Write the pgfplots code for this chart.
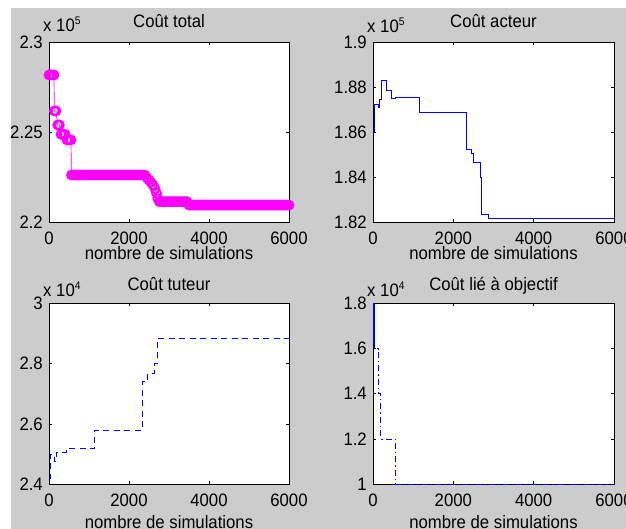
\documentclass[border=0pt]{standalone}
\usepackage{fontspec}
\setmainfont{Liberation Sans}[FakeStretch=0.93]
\usepackage{pgfplots}
\pgfplotsset{compat=1.18}
\definecolor{figgray}{gray}{0.8}
\definecolor{mag}{rgb}{1,0,1}
\definecolor{pblue}{rgb}{0,0,1}
\newcommand{\lblfont}{\fontsize{18}{18}\selectfont}
\pgfplotsset{
  matfig/.style n args={3}{
    scale only axis, clip=false, anchor=south west,
    xmin=0, xmax=6000, xtick={0,2000,4000,6000},
    scaled x ticks=false,
    axis background/.style={fill=white},
    axis line style={black, line width=0.8pt},
    tick align=inside, tick pos=both, major tick length=3pt,
    every tick/.style={black, line width=0.6pt},
    /pgf/number format/assume math mode=true,
    /pgf/number format/1000 sep={},
    /pgf/number format/fixed, /pgf/number format/precision=2,
    tick label style={font=\lblfont, text=black},
    yticklabel style={anchor=east, inner sep=0pt, xshift=-6pt},
    xticklabel style={anchor=north, inner sep=0pt, yshift=-9.5pt},
    every axis title/.style={at={(axis description cs:0.5,1)}, anchor=base, inner sep=0pt, font=\lblfont, yshift=#1},
    xlabel={nombre de simulations},
    every axis x label/.style={at={(axis description cs:0.5,0)}, anchor=base, inner sep=0pt, font=\lblfont, yshift=-#2},
    every y tick scale label/.style={at={(axis description cs:0,1)}, anchor=base west, inner sep=0pt, font=\lblfont, yshift=#3},
  },
}
\begin{document}
\begin{tikzpicture}[x=1pt,y=1pt]
\fill[white] (0,0) rectangle (626,529);
\fill[figgray] (11,0) rectangle (626,521);

% ---------- Coût total ----------
\begin{axis}[matfig={14pt}{37.8pt}{10pt}, at={(49pt,307pt)}, width=240pt, height=180pt,
  ymin=220000, ymax=230000, ytick={220000,225000,230000},
  scaled y ticks=base 10:-5,
  ytick scale label code/.code={x 10\raisebox{7pt}{\fontsize{11}{11}\selectfont 5}},
  title={Coût total}]
\addplot[mag, line width=0.7pt, mark=o, mark size=4.4pt, mark options={line width=1.9pt}] coordinates {
(0,228170) (40,228170) (80,228170) (125,228170) (133,226170) (175,226170)
(217,225390) (260,225390) (300,224870) (358,224870) (400,224870)
(450,224560) (500,224560) (550,224560) (560,222610)
(600,222610) (650,222610) (700,222610) (750,222610) (800,222610) (850,222610)
(900,222610) (950,222610) (1000,222610) (1050,222610) (1100,222610) (1150,222610)
(1200,222610) (1250,222610) (1300,222610) (1350,222610) (1400,222610) (1450,222610)
(1500,222610) (1550,222610) (1600,222610) (1650,222610) (1700,222610) (1750,222610)
(1800,222610) (1850,222610) (1900,222610) (1950,222610) (2000,222610) (2050,222610)
(2100,222610) (2150,222610) (2200,222610) (2250,222610) (2300,222610) (2350,222610)
(2400,222600) (2450,222450) (2500,222330) (2550,222200) (2600,222060) (2650,221850)
(2690,221590) (2720,221300) (2760,221130)
(2800,221130) (2850,221130) (2900,221130) (2950,221130) (3000,221130) (3050,221130)
(3100,221130) (3150,221130) (3200,221130) (3250,221130) (3300,221130) (3350,221130)
(3400,221130) (3450,221130)
(3500,220940) (3550,220940) (3600,220940) (3650,220940) (3700,220940) (3750,220940)
(3800,220940) (3850,220940) (3900,220940) (3950,220940) (4000,220940) (4050,220940)
(4100,220940) (4150,220940) (4200,220940) (4250,220940) (4300,220940) (4350,220940)
(4400,220940) (4450,220940) (4500,220940) (4550,220940) (4600,220940) (4650,220940)
(4700,220940) (4750,220940) (4800,220940) (4850,220940) (4900,220940) (4950,220940)
(5000,220940) (5050,220940) (5100,220940) (5150,220940) (5200,220940) (5250,220940)
(5300,220940) (5350,220940) (5400,220940) (5450,220940) (5500,220940) (5550,220940)
(5600,220940) (5650,220940) (5700,220940) (5750,220940) (5800,220940) (5850,220940)
(5900,220940) (5950,220940) (6000,220940)
};
\end{axis}

% ---------- Coût acteur ----------
\begin{axis}[matfig={14pt}{37.8pt}{9pt}, at={(373pt,307pt)}, width=241pt, height=180pt,
  ymin=182000, ymax=190000, ytick={182000,184000,186000,188000,190000},
  scaled y ticks=base 10:-5,
  ytick scale label code/.code={x 10\raisebox{7pt}{\fontsize{11}{11}\selectfont 5}},
  title={Coût acteur}]
\addplot[pblue, line width=1pt, const plot] coordinates {
(0,185963) (25,187229) (140,187080) (160,187453) (200,188287) (348,187825)
(472,187467) (555,187527) (1159,186871) (2318,185203) (2442,185039)
(2500,184622) (2666,183967) (2707,182328) (2872,182149) (6000,182149)
};
\end{axis}

% ---------- Coût tuteur ----------
\begin{axis}[matfig={13pt}{44pt}{7pt}, at={(49pt,44.7pt)}, width=240pt, height=181pt,
  ymin=24000, ymax=30000, ytick={24000,26000,28000,30000},
  scaled y ticks=base 10:-4,
  ytick scale label code/.code={x 10\raisebox{7pt}{\fontsize{11}{11}\selectfont 4}},
  title={Coût tuteur}]
\addplot[pblue, line width=1pt, const plot, dash pattern=on 6pt off 4.5pt] coordinates {
(0,24187) (25,24980) (142,24771) (184,25068) (434,25178) (1145,25794)
(2339,27413) (2464,27677) (2632,28018) (2707,28844) (6000,28844)
};
\end{axis}

% ---------- Coût lié à objectif ----------
\begin{axis}[matfig={13pt}{44pt}{7pt}, at={(373pt,44.7pt)}, width=241pt, height=181pt,
  ymin=10000, ymax=18000, ytick={10000,12000,14000,16000,18000},
  scaled y ticks=base 10:-4,
  ytick scale label code/.code={x 10\raisebox{7pt}{\fontsize{11}{11}\selectfont 4}},
  title={Coût lié à objectif}]
\addplot[pblue, line width=1pt, const plot, dash pattern=on 6pt off 3pt on 1.5pt off 3pt] coordinates {
(0,18000) (25,16000) (135,14000) (196,12000) (560,10000) (6000,10000)
};
\addplot[pblue, line width=1.6pt] coordinates {(25,18000) (25,16200)};
\end{axis}

\pgfresetboundingbox
\path[use as bounding box] (0,0) rectangle (626,529);
\end{tikzpicture}
\end{document}
